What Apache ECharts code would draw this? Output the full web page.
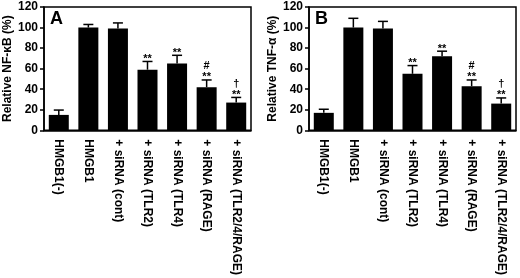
<!DOCTYPE html>
<html><head><meta charset="utf-8">
<script src="https://cdn.jsdelivr.net/npm/echarts@6/dist/echarts.min.js"></script>
<style>html,body{margin:0;padding:0;background:#fff}#c{width:520px;height:278px}</style>
</head><body><div id="c"></div>
<script>
const categories = ['HMGB1(-)', 'HMGB1', '+ siRNA (cont)', '+ siRNA (TLR2)', '+ siRNA (TLR4)', '+ siRNA (RAGE)', '+ siRNA (TLR2/4/RAGE)'];
const nfkbMean = [15, 100, 99, 59, 65, 42, 27];
const nfkbErr = [4.7, 3, 5.5, 8, 8, 7, 5];
const tnfMean = [17, 100, 99, 55, 72, 43, 26];
const tnfErr = [3.5, 9, 7, 8, 5, 6, 5.5];
const starsA = ['', '', '', '**', '**', '**', '**'];
const markA = ['', '', '', '', '', '#', '\u2020'];
const starsB = ['', '', '', '**', '**', '**', '**'];
const markB = ['', '', '', '', '', '#', '\u2020'];
const yTicks = [0, 20, 40, 60, 80, 100, 120];

const FONT = '"Liberation Sans", Arial, sans-serif';
const chart = echarts.init(document.getElementById('c'), null, {renderer: 'canvas'});

function errSeries(idx, mean, err, stars, mark) {
  return {
    type: 'custom', xAxisIndex: idx, yAxisIndex: idx, z: 5,
    data: mean.map((m, i) => [i, m, err[i]]),
    renderItem: function (params, api) {
      const i = api.value(0), m = api.value(1), e = api.value(2);
      const p0 = api.coord([i, m]);
      const p1 = api.coord([i, m + e]);
      const hw = 5;
      const children = [
        {type: 'line', shape: {x1: p0[0], y1: p0[1], x2: p1[0], y2: p1[1]}, style: {stroke: '#000', lineWidth: 1.5}},
        {type: 'line', shape: {x1: p1[0] - hw, y1: p1[1], x2: p1[0] + hw, y2: p1[1]}, style: {stroke: '#000', lineWidth: 1.5}}
      ];
      if (stars[i]) children.push({type: 'text', style: {text: stars[i], x: p1[0], y: p1[1] + 3, align: 'center', verticalAlign: 'bottom', font: 'bold 11px ' + FONT, fill: '#000'}});
      if (mark[i]) children.push({type: 'text', style: {text: mark[i], x: p1[0], y: p1[1] - 8, align: 'center', verticalAlign: 'bottom', font: 'bold 11px ' + FONT, fill: '#000'}});
      return {type: 'group', children: children};
    }
  };
}

function xAx(idx) {
  return {
    gridIndex: idx, type: 'category', data: categories,
    axisLine: {lineStyle: {color: '#000', width: 1.5}},
    axisTick: {inside: true, length: 4, lineStyle: {color: '#000', width: 1.5}},
    axisLabel: {rotate: -90, margin: 9, color: '#000', fontSize: 12, fontWeight: 'bold', fontFamily: FONT, interval: 0},
    splitLine: {show: false}
  };
}
function yAx(idx, name) {
  return {
    gridIndex: idx, type: 'value', min: 0, max: 120, interval: 20,
    name: name, nameLocation: 'middle', nameGap: 30, nameRotate: 90,
    nameTextStyle: {color: '#000', fontSize: 12, fontWeight: 'bold', fontFamily: FONT},
    axisLine: {show: true, lineStyle: {color: '#000', width: 1.5}},
    axisTick: {show: true, inside: false, length: 4, lineStyle: {color: '#000', width: 1.5}},
    axisLabel: {margin: 6, color: '#000', fontSize: 12, fontWeight: 'bold', fontFamily: FONT,
      formatter: v => yTicks.indexOf(v) >= 0 ? String(v) : ''},
    splitLine: {show: false}
  };
}

chart.setOption({
  animation: false,
  backgroundColor: '#fff',
  grid: [
    {left: 44, right: 269, top: 7, bottom: 146, show: true, borderColor: '#000', borderWidth: 1.5},
    {left: 309, right: 4, top: 7, bottom: 146, show: true, borderColor: '#000', borderWidth: 1.5}
  ],
  xAxis: [xAx(0), xAx(1)],
  yAxis: [yAx(0, 'Relative NF-\u03baB (%)'), yAx(1, 'Relative TNF-\u03b1 (%)')],
  graphic: [
    {type: 'text', left: 50, top: 10, style: {text: 'A', font: 'bold 18px ' + FONT, fill: '#000'}},
    {type: 'text', left: 315, top: 10, style: {text: 'B', font: 'bold 18px ' + FONT, fill: '#000'}}
  ],
  series: [
    {type: 'bar', xAxisIndex: 0, yAxisIndex: 0, data: nfkbMean, barWidth: 20, itemStyle: {color: '#000'}},
    {type: 'bar', xAxisIndex: 1, yAxisIndex: 1, data: tnfMean, barWidth: 20, itemStyle: {color: '#000'}},
    errSeries(0, nfkbMean, nfkbErr, starsA, markA),
    errSeries(1, tnfMean, tnfErr, starsB, markB)
  ]
});
</script></body></html>
